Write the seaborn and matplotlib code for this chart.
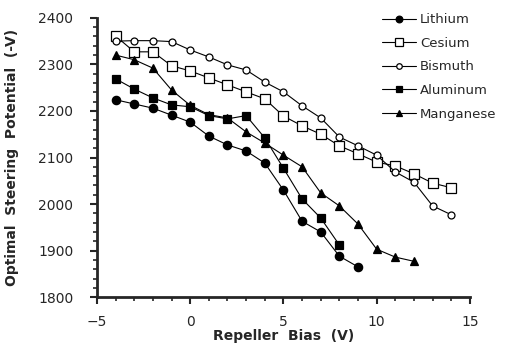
import numpy as np
import pandas as pd
import seaborn as sns
import matplotlib.pyplot as plt
from matplotlib.ticker import MultipleLocator

# values
bias_li = [-4, -3, -2, -1, 0, 1, 2, 3, 4, 5, 6, 7, 8, 9]
lithium = [2224, 2215, 2206, 2191, 2176, 2146, 2127, 2114, 2088, 2030, 1963, 1940, 1888, 1865]

bias_cs = [-4, -3, -2, -1, 0, 1, 2, 3, 4, 5, 6, 7, 8, 9, 10, 11, 12, 13, 14]
cesium = [2361, 2327, 2327, 2297, 2286, 2271, 2256, 2241, 2226, 2189, 2168, 2150, 2125,
          2108, 2090, 2082, 2065, 2045, 2035]

bias_bi = [-4, -3, -2, -1, 0, 1, 2, 3, 4, 5, 6, 7, 8, 9, 10, 11, 12, 13, 14]
bismuth = [2350, 2351, 2351, 2349, 2331, 2316, 2299, 2288, 2262, 2241, 2211, 2185, 2144,
           2125, 2105, 2069, 2047, 1996, 1977]

bias_al = [-4, -3, -2, -1, 0, 1, 2, 3, 4, 5, 6, 7, 8]
aluminum = [2269, 2247, 2228, 2213, 2209, 2190, 2183, 2190, 2142, 2077, 2011, 1970, 1912]

bias_mn = [-4, -3, -2, -1, 0, 1, 2, 3, 4, 5, 6, 7, 8, 9, 10, 11, 12]
manganese = [2320, 2310, 2292, 2245, 2212, 2192, 2185, 2155, 2131, 2105, 2080, 2024,
             1996, 1957, 1903, 1886, 1877]

series = [
    ("Lithium", bias_li, lithium, "o", "black", 6),
    ("Cesium", bias_cs, cesium, "s", "white", 7),
    ("Bismuth", bias_bi, bismuth, "o", "white", 5),
    ("Aluminum", bias_al, aluminum, "s", "black", 6),
    ("Manganese", bias_mn, manganese, "^", "black", 6),
]

sns.set_style("ticks")
plt.rcParams["font.family"] = ["DejaVu Sans"]

fig = plt.figure(figsize=(5.13, 3.5), dpi=100)
ax = fig.add_axes([0.189, 0.151, 0.727, 0.798])

for name, x, y, mk, face, ms in series:
    df = pd.DataFrame({"bias": x, "pot": y})
    sns.lineplot(data=df, x="bias", y="pot", ax=ax, color="black", linewidth=0.8,
                 marker=mk, markersize=ms, markerfacecolor=face,
                 markeredgecolor="black", markeredgewidth=0.9, label=name)

ax.set_xlim(-5, 15)
ax.set_ylim(1800, 2400)
ax.xaxis.set_major_locator(MultipleLocator(5))
ax.xaxis.set_minor_locator(MultipleLocator(1))
ax.yaxis.set_major_locator(MultipleLocator(100))
ax.yaxis.set_minor_locator(MultipleLocator(20))
ax.tick_params(which="major", length=5, width=1.5, labelsize=10)
ax.tick_params(axis="y", which="major", pad=12)
ax.tick_params(axis="x", which="major", pad=8)
ax.tick_params(which="minor", length=3, width=1.2)
for s in ["left", "bottom"]:
    ax.spines[s].set_linewidth(2)
sns.despine(ax=ax)

ax.set_xlabel("Repeller  Bias  (V)", fontsize=10, fontweight="bold", labelpad=0)
ax.set_ylabel("Optimal  Steering  Potential  (-V)", fontsize=10, fontweight="bold",
              labelpad=14)

leg = ax.legend(loc="upper left", bbox_to_anchor=(0.75, 1.035), frameon=False,
                fontsize=9.5, handlelength=2.6, handletextpad=0.3, labelspacing=0.8,
                borderaxespad=0.0, markerscale=0.8)

fig.savefig("out.png", dpi=100)
